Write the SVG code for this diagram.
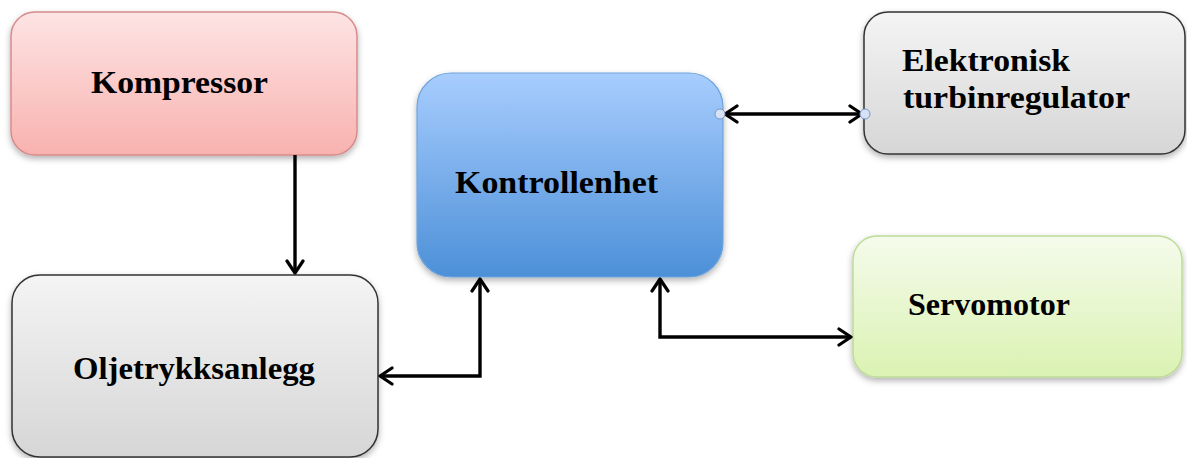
<svg xmlns="http://www.w3.org/2000/svg" width="1187" height="458" viewBox="0 0 1187 458">
<defs>
<linearGradient id="gRed" x1="0" y1="0" x2="0" y2="1"><stop offset="0" stop-color="#fde4e4"/><stop offset="1" stop-color="#f8b2af"/></linearGradient>
<linearGradient id="gGrey" x1="0" y1="0" x2="0" y2="1"><stop offset="0" stop-color="#f4f4f4"/><stop offset="1" stop-color="#d6d6d6"/></linearGradient>
<linearGradient id="gBlue" x1="0" y1="0" x2="0" y2="1"><stop offset="0" stop-color="#a8cdfe"/><stop offset="1" stop-color="#4c90d8"/></linearGradient>
<linearGradient id="gGreen" x1="0" y1="0" x2="0" y2="1"><stop offset="0" stop-color="#f5fbec"/><stop offset="1" stop-color="#daf2b2"/></linearGradient>
<filter id="sh" x="-10%" y="-10%" width="120%" height="130%"><feDropShadow dx="0" dy="3" stdDeviation="3" flood-color="#000" flood-opacity="0.3"/></filter>
<marker id="ah" viewBox="0 0 18 20" refX="15" refY="10" markerWidth="18" markerHeight="20" markerUnits="userSpaceOnUse" orient="auto-start-reverse">
<path d="M3,2 L15,10 L3,18" fill="none" stroke="#000" stroke-width="3.2" stroke-linecap="round" stroke-linejoin="round"/>
</marker>
</defs>
<style>
text{font-family:"Liberation Serif","DejaVu Serif",serif;font-weight:bold;font-size:32px;fill:#000}
.c{fill:none;stroke:#000;stroke-width:3.4;stroke-linejoin:miter}
</style>
<g id="kompressor"><rect x="11" y="12" width="346" height="143" rx="24" fill="url(#gRed)" stroke="#d78a8a" stroke-width="1.5" filter="url(#sh)"/><text x="91" y="93" textLength="177" lengthAdjust="spacingAndGlyphs">Kompressor</text></g>
<g id="oljetrykksanlegg"><rect x="12" y="275" width="366" height="182" rx="28" fill="url(#gGrey)" stroke="#333" stroke-width="1.5" filter="url(#sh)"/><text x="73" y="379" textLength="242" lengthAdjust="spacingAndGlyphs">Oljetrykksanlegg</text></g>
<g id="kontrollenhet"><rect x="417" y="73" width="306" height="204" rx="34" fill="url(#gBlue)" stroke="#6fa3db" stroke-width="1.2" filter="url(#sh)"/><text x="455" y="193" textLength="203" lengthAdjust="spacingAndGlyphs">Kontrollenhet</text></g>
<g id="elektronisk"><rect x="864" y="12" width="321" height="142" rx="24" fill="url(#gGrey)" stroke="#333" stroke-width="1.5" filter="url(#sh)"/><text x="902" y="71" textLength="168" lengthAdjust="spacingAndGlyphs">Elektronisk</text><text x="903" y="108" textLength="227" lengthAdjust="spacingAndGlyphs">turbinregulator</text></g>
<g id="servomotor"><rect x="853" y="236" width="329" height="141" rx="24" fill="url(#gGreen)" stroke="#bddc96" stroke-width="1.5" filter="url(#sh)"/><text x="908" y="315" textLength="162" lengthAdjust="spacingAndGlyphs">Servomotor</text></g>
<g id="connectors">
<path class="c" d="M295,155 L295,273" marker-end="url(#ah)"/>
<path class="c" d="M380,376 L480,376 L480,279" marker-start="url(#ah)" marker-end="url(#ah)"/>
<path class="c" d="M660,279 L660,337 L851,337" marker-start="url(#ah)" marker-end="url(#ah)"/>
<path class="c" d="M725,114 L862,114" marker-start="url(#ah)" marker-end="url(#ah)"/>
<circle cx="720" cy="114" r="5" fill="#d7e3f5" stroke="#7a98c8" stroke-width="1"/>
<circle cx="865" cy="114" r="5" fill="#d7e3f5" stroke="#7a98c8" stroke-width="1"/>
</g>
</svg>
